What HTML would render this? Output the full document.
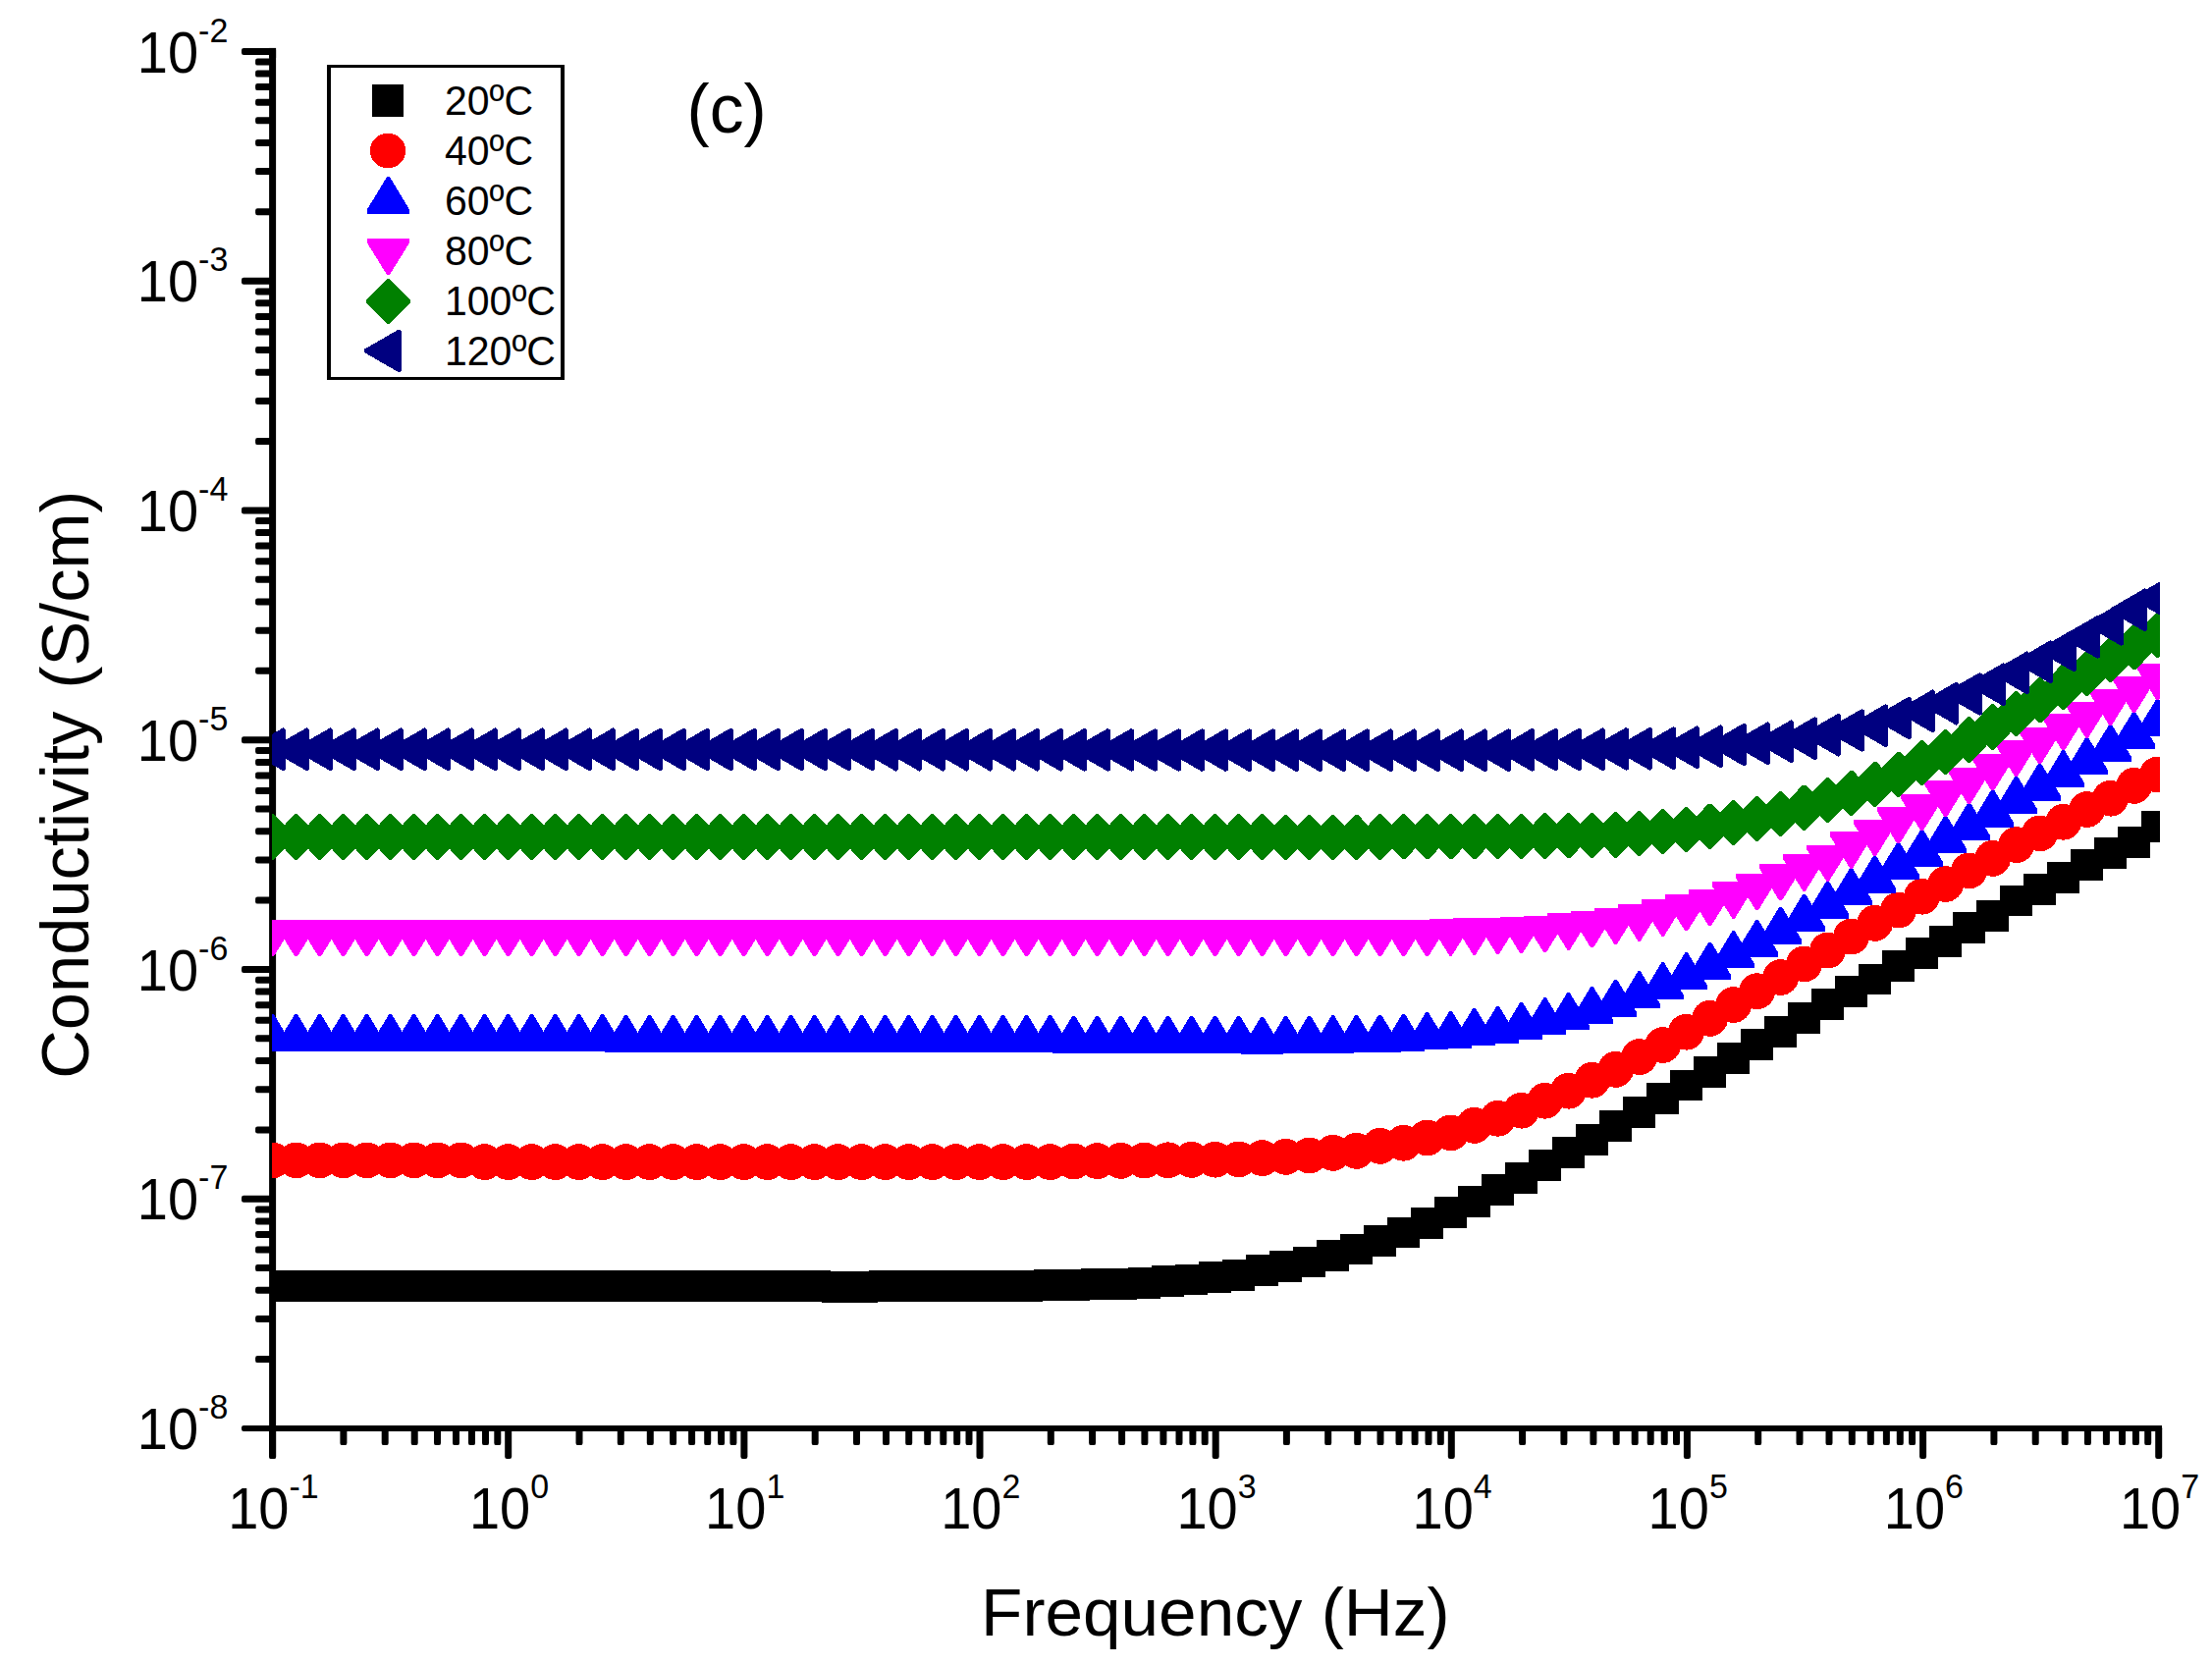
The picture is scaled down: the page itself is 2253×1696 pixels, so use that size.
<!DOCTYPE html>
<html lang="en"><head><meta charset="utf-8"><title>Conductivity vs Frequency (c)</title>
<style>html,body{margin:0;padding:0;background:#fff;}svg{display:block;}text{font-family:"Liberation Sans",Arial,Helvetica,sans-serif;fill:#000;}</style></head><body>
<svg width="2253" height="1696" viewBox="0 0 2253 1696">
<rect width="2253" height="1696" fill="#fff"/>
<defs><clipPath id="plotclip"><rect x="277.0" y="40" width="1923.0" height="1420"/></clipPath></defs>
<g fill="#000">
<rect x="274.1" y="48.9" width="7" height="1437.1" rx="2.2"/>
<rect x="274.1" y="48.9" width="7" height="10"/>
<rect x="246" y="1452.0" width="1956.0" height="6" rx="2.2"/>
<rect x="2190" y="1452.0" width="12" height="6"/>
<rect x="246" y="48.9" width="31.6" height="7" rx="2.2"/>
<rect x="260.1" y="212.3" width="17.5" height="7" rx="2.2"/>
<rect x="260.1" y="171.1" width="17.5" height="7" rx="2.2"/>
<rect x="260.1" y="141.9" width="17.5" height="7" rx="2.2"/>
<rect x="260.1" y="119.3" width="17.5" height="7" rx="2.2"/>
<rect x="260.1" y="100.8" width="17.5" height="7" rx="2.2"/>
<rect x="260.1" y="85.1" width="17.5" height="7" rx="2.2"/>
<rect x="260.1" y="71.6" width="17.5" height="7" rx="2.2"/>
<rect x="260.1" y="59.6" width="17.5" height="7" rx="2.2"/>
<rect x="246" y="282.7" width="31.6" height="7" rx="2.2"/>
<rect x="260.1" y="446.1" width="17.5" height="7" rx="2.2"/>
<rect x="260.1" y="404.9" width="17.5" height="7" rx="2.2"/>
<rect x="260.1" y="375.7" width="17.5" height="7" rx="2.2"/>
<rect x="260.1" y="353.0" width="17.5" height="7" rx="2.2"/>
<rect x="260.1" y="334.5" width="17.5" height="7" rx="2.2"/>
<rect x="260.1" y="318.9" width="17.5" height="7" rx="2.2"/>
<rect x="260.1" y="305.3" width="17.5" height="7" rx="2.2"/>
<rect x="260.1" y="293.4" width="17.5" height="7" rx="2.2"/>
<rect x="246" y="516.4" width="31.6" height="7" rx="2.2"/>
<rect x="260.1" y="679.8" width="17.5" height="7" rx="2.2"/>
<rect x="260.1" y="638.7" width="17.5" height="7" rx="2.2"/>
<rect x="260.1" y="609.5" width="17.5" height="7" rx="2.2"/>
<rect x="260.1" y="586.8" width="17.5" height="7" rx="2.2"/>
<rect x="260.1" y="568.3" width="17.5" height="7" rx="2.2"/>
<rect x="260.1" y="552.6" width="17.5" height="7" rx="2.2"/>
<rect x="260.1" y="539.1" width="17.5" height="7" rx="2.2"/>
<rect x="260.1" y="527.1" width="17.5" height="7" rx="2.2"/>
<rect x="246" y="750.2" width="31.6" height="7" rx="2.2"/>
<rect x="260.1" y="913.6" width="17.5" height="7" rx="2.2"/>
<rect x="260.1" y="872.4" width="17.5" height="7" rx="2.2"/>
<rect x="260.1" y="843.2" width="17.5" height="7" rx="2.2"/>
<rect x="260.1" y="820.6" width="17.5" height="7" rx="2.2"/>
<rect x="260.1" y="802.1" width="17.5" height="7" rx="2.2"/>
<rect x="260.1" y="786.4" width="17.5" height="7" rx="2.2"/>
<rect x="260.1" y="772.9" width="17.5" height="7" rx="2.2"/>
<rect x="260.1" y="760.9" width="17.5" height="7" rx="2.2"/>
<rect x="246" y="984.0" width="31.6" height="7" rx="2.2"/>
<rect x="260.1" y="1147.4" width="17.5" height="7" rx="2.2"/>
<rect x="260.1" y="1106.2" width="17.5" height="7" rx="2.2"/>
<rect x="260.1" y="1077.0" width="17.5" height="7" rx="2.2"/>
<rect x="260.1" y="1054.3" width="17.5" height="7" rx="2.2"/>
<rect x="260.1" y="1035.8" width="17.5" height="7" rx="2.2"/>
<rect x="260.1" y="1020.2" width="17.5" height="7" rx="2.2"/>
<rect x="260.1" y="1006.6" width="17.5" height="7" rx="2.2"/>
<rect x="260.1" y="994.7" width="17.5" height="7" rx="2.2"/>
<rect x="246" y="1217.7" width="31.6" height="7" rx="2.2"/>
<rect x="260.1" y="1381.1" width="17.5" height="7" rx="2.2"/>
<rect x="260.1" y="1340.0" width="17.5" height="7" rx="2.2"/>
<rect x="260.1" y="1310.8" width="17.5" height="7" rx="2.2"/>
<rect x="260.1" y="1288.1" width="17.5" height="7" rx="2.2"/>
<rect x="260.1" y="1269.6" width="17.5" height="7" rx="2.2"/>
<rect x="260.1" y="1253.9" width="17.5" height="7" rx="2.2"/>
<rect x="260.1" y="1240.4" width="17.5" height="7" rx="2.2"/>
<rect x="260.1" y="1228.4" width="17.5" height="7" rx="2.2"/>
<rect x="274.1" y="1453.0" width="7" height="33.0" rx="2.2"/>
<rect x="346.4" y="1453.0" width="7" height="19.1" rx="2.2"/>
<rect x="388.7" y="1453.0" width="7" height="19.1" rx="2.2"/>
<rect x="418.7" y="1453.0" width="7" height="19.1" rx="2.2"/>
<rect x="442.0" y="1453.0" width="7" height="19.1" rx="2.2"/>
<rect x="461.0" y="1453.0" width="7" height="19.1" rx="2.2"/>
<rect x="477.0" y="1453.0" width="7" height="19.1" rx="2.2"/>
<rect x="491.0" y="1453.0" width="7" height="19.1" rx="2.2"/>
<rect x="503.3" y="1453.0" width="7" height="19.1" rx="2.2"/>
<rect x="514.2" y="1453.0" width="7" height="33.0" rx="2.2"/>
<rect x="586.5" y="1453.0" width="7" height="19.1" rx="2.2"/>
<rect x="628.8" y="1453.0" width="7" height="19.1" rx="2.2"/>
<rect x="658.8" y="1453.0" width="7" height="19.1" rx="2.2"/>
<rect x="682.1" y="1453.0" width="7" height="19.1" rx="2.2"/>
<rect x="701.1" y="1453.0" width="7" height="19.1" rx="2.2"/>
<rect x="717.2" y="1453.0" width="7" height="19.1" rx="2.2"/>
<rect x="731.1" y="1453.0" width="7" height="19.1" rx="2.2"/>
<rect x="743.4" y="1453.0" width="7" height="19.1" rx="2.2"/>
<rect x="754.4" y="1453.0" width="7" height="33.0" rx="2.2"/>
<rect x="826.7" y="1453.0" width="7" height="19.1" rx="2.2"/>
<rect x="869.0" y="1453.0" width="7" height="19.1" rx="2.2"/>
<rect x="899.0" y="1453.0" width="7" height="19.1" rx="2.2"/>
<rect x="922.2" y="1453.0" width="7" height="19.1" rx="2.2"/>
<rect x="941.2" y="1453.0" width="7" height="19.1" rx="2.2"/>
<rect x="957.3" y="1453.0" width="7" height="19.1" rx="2.2"/>
<rect x="971.2" y="1453.0" width="7" height="19.1" rx="2.2"/>
<rect x="983.5" y="1453.0" width="7" height="19.1" rx="2.2"/>
<rect x="994.5" y="1453.0" width="7" height="33.0" rx="2.2"/>
<rect x="1066.8" y="1453.0" width="7" height="19.1" rx="2.2"/>
<rect x="1109.1" y="1453.0" width="7" height="19.1" rx="2.2"/>
<rect x="1139.1" y="1453.0" width="7" height="19.1" rx="2.2"/>
<rect x="1162.4" y="1453.0" width="7" height="19.1" rx="2.2"/>
<rect x="1181.4" y="1453.0" width="7" height="19.1" rx="2.2"/>
<rect x="1197.5" y="1453.0" width="7" height="19.1" rx="2.2"/>
<rect x="1211.4" y="1453.0" width="7" height="19.1" rx="2.2"/>
<rect x="1223.7" y="1453.0" width="7" height="19.1" rx="2.2"/>
<rect x="1234.7" y="1453.0" width="7" height="33.0" rx="2.2"/>
<rect x="1306.9" y="1453.0" width="7" height="19.1" rx="2.2"/>
<rect x="1349.2" y="1453.0" width="7" height="19.1" rx="2.2"/>
<rect x="1379.2" y="1453.0" width="7" height="19.1" rx="2.2"/>
<rect x="1402.5" y="1453.0" width="7" height="19.1" rx="2.2"/>
<rect x="1421.5" y="1453.0" width="7" height="19.1" rx="2.2"/>
<rect x="1437.6" y="1453.0" width="7" height="19.1" rx="2.2"/>
<rect x="1451.5" y="1453.0" width="7" height="19.1" rx="2.2"/>
<rect x="1463.8" y="1453.0" width="7" height="19.1" rx="2.2"/>
<rect x="1474.8" y="1453.0" width="7" height="33.0" rx="2.2"/>
<rect x="1547.1" y="1453.0" width="7" height="19.1" rx="2.2"/>
<rect x="1589.4" y="1453.0" width="7" height="19.1" rx="2.2"/>
<rect x="1619.4" y="1453.0" width="7" height="19.1" rx="2.2"/>
<rect x="1642.7" y="1453.0" width="7" height="19.1" rx="2.2"/>
<rect x="1661.7" y="1453.0" width="7" height="19.1" rx="2.2"/>
<rect x="1677.7" y="1453.0" width="7" height="19.1" rx="2.2"/>
<rect x="1691.7" y="1453.0" width="7" height="19.1" rx="2.2"/>
<rect x="1704.0" y="1453.0" width="7" height="19.1" rx="2.2"/>
<rect x="1714.9" y="1453.0" width="7" height="33.0" rx="2.2"/>
<rect x="1787.2" y="1453.0" width="7" height="19.1" rx="2.2"/>
<rect x="1829.5" y="1453.0" width="7" height="19.1" rx="2.2"/>
<rect x="1859.5" y="1453.0" width="7" height="19.1" rx="2.2"/>
<rect x="1882.8" y="1453.0" width="7" height="19.1" rx="2.2"/>
<rect x="1901.8" y="1453.0" width="7" height="19.1" rx="2.2"/>
<rect x="1917.9" y="1453.0" width="7" height="19.1" rx="2.2"/>
<rect x="1931.8" y="1453.0" width="7" height="19.1" rx="2.2"/>
<rect x="1944.1" y="1453.0" width="7" height="19.1" rx="2.2"/>
<rect x="1955.1" y="1453.0" width="7" height="33.0" rx="2.2"/>
<rect x="2027.4" y="1453.0" width="7" height="19.1" rx="2.2"/>
<rect x="2069.7" y="1453.0" width="7" height="19.1" rx="2.2"/>
<rect x="2099.7" y="1453.0" width="7" height="19.1" rx="2.2"/>
<rect x="2122.9" y="1453.0" width="7" height="19.1" rx="2.2"/>
<rect x="2141.9" y="1453.0" width="7" height="19.1" rx="2.2"/>
<rect x="2158.0" y="1453.0" width="7" height="19.1" rx="2.2"/>
<rect x="2171.9" y="1453.0" width="7" height="19.1" rx="2.2"/>
<rect x="2184.2" y="1453.0" width="7" height="19.1" rx="2.2"/>
<rect x="2195.2" y="1453.0" width="7" height="33.0" rx="2.2"/>
</g>
<g clip-path="url(#plotclip)" shape-rendering="crispEdges">
<g fill="#000000">
<polygon points="261.2,1294.0 294.0,1294.0 294.0,1325.8 261.2,1325.8"/><polygon points="285.2,1294.0 318.0,1294.0 318.0,1325.8 285.2,1325.8"/><polygon points="309.2,1294.0 342.0,1294.0 342.0,1325.8 309.2,1325.8"/><polygon points="333.2,1294.0 366.0,1294.0 366.0,1325.8 333.2,1325.8"/><polygon points="357.2,1294.0 390.0,1294.0 390.0,1325.8 357.2,1325.8"/><polygon points="381.2,1294.0 414.0,1294.0 414.0,1325.8 381.2,1325.8"/><polygon points="405.2,1294.0 438.0,1294.0 438.0,1325.8 405.2,1325.8"/><polygon points="429.2,1294.0 462.0,1294.0 462.0,1325.8 429.2,1325.8"/><polygon points="453.2,1294.0 486.0,1294.0 486.0,1325.8 453.2,1325.8"/><polygon points="477.2,1294.0 510.0,1294.0 510.0,1325.8 477.2,1325.8"/><polygon points="501.2,1294.0 534.0,1294.0 534.0,1325.8 501.2,1325.8"/><polygon points="525.2,1294.0 558.0,1294.0 558.0,1325.8 525.2,1325.8"/><polygon points="549.2,1294.0 582.0,1294.0 582.0,1325.8 549.2,1325.8"/><polygon points="573.2,1294.0 606.0,1294.0 606.0,1325.8 573.2,1325.8"/><polygon points="597.2,1294.0 630.0,1294.0 630.0,1325.8 597.2,1325.8"/><polygon points="621.2,1294.0 654.0,1294.0 654.0,1325.8 621.2,1325.8"/><polygon points="645.2,1294.0 678.0,1294.0 678.0,1325.8 645.2,1325.8"/><polygon points="669.2,1294.0 702.0,1294.0 702.0,1325.8 669.2,1325.8"/><polygon points="693.2,1294.0 726.0,1294.0 726.0,1325.8 693.2,1325.8"/><polygon points="717.2,1294.0 750.0,1294.0 750.0,1325.8 717.2,1325.8"/><polygon points="741.2,1294.0 774.0,1294.0 774.0,1325.8 741.2,1325.8"/><polygon points="765.2,1294.0 798.0,1294.0 798.0,1325.8 765.2,1325.8"/><polygon points="789.2,1294.0 822.0,1294.0 822.0,1325.8 789.2,1325.8"/><polygon points="813.2,1294.0 846.0,1294.0 846.0,1325.8 813.2,1325.8"/><polygon points="837.2,1294.7 870.0,1294.7 870.0,1326.5 837.2,1326.5"/><polygon points="861.2,1294.7 894.0,1294.7 894.0,1326.5 861.2,1326.5"/><polygon points="885.2,1294.0 918.0,1294.0 918.0,1325.8 885.2,1325.8"/><polygon points="909.2,1294.0 942.0,1294.0 942.0,1325.8 909.2,1325.8"/><polygon points="933.2,1294.0 966.0,1294.0 966.0,1325.8 933.2,1325.8"/><polygon points="957.2,1294.0 990.0,1294.0 990.0,1325.8 957.2,1325.8"/><polygon points="981.2,1294.0 1014.0,1294.0 1014.0,1325.8 981.2,1325.8"/><polygon points="1005.2,1294.0 1038.0,1294.0 1038.0,1325.8 1005.2,1325.8"/><polygon points="1029.2,1294.0 1062.0,1294.0 1062.0,1325.8 1029.2,1325.8"/><polygon points="1053.2,1292.9 1086.0,1292.9 1086.0,1324.7 1053.2,1324.7"/><polygon points="1077.2,1292.9 1110.0,1292.9 1110.0,1324.7 1077.2,1324.7"/><polygon points="1101.2,1292.0 1134.0,1292.0 1134.0,1323.8 1101.2,1323.8"/><polygon points="1125.2,1292.0 1158.0,1292.0 1158.0,1323.8 1125.2,1323.8"/><polygon points="1149.2,1291.1 1182.0,1291.1 1182.0,1322.9 1149.2,1322.9"/><polygon points="1173.2,1289.3 1206.0,1289.3 1206.0,1321.1 1173.2,1321.1"/><polygon points="1197.2,1287.5 1230.0,1287.5 1230.0,1319.3 1197.2,1319.3"/><polygon points="1221.2,1285.3 1254.0,1285.3 1254.0,1317.1 1221.2,1317.1"/><polygon points="1245.2,1283.1 1278.0,1283.1 1278.0,1314.9 1245.2,1314.9"/><polygon points="1269.2,1278.4 1302.0,1278.4 1302.0,1310.2 1269.2,1310.2"/><polygon points="1293.2,1274.2 1326.0,1274.2 1326.0,1306.0 1293.2,1306.0"/><polygon points="1317.2,1269.6 1350.0,1269.6 1350.0,1301.4 1317.2,1301.4"/><polygon points="1341.2,1263.3 1374.0,1263.3 1374.0,1295.1 1341.2,1295.1"/><polygon points="1365.2,1256.5 1398.0,1256.5 1398.0,1288.3 1365.2,1288.3"/><polygon points="1389.2,1248.4 1422.0,1248.4 1422.0,1280.2 1389.2,1280.2"/><polygon points="1413.2,1239.5 1446.0,1239.5 1446.0,1271.3 1413.2,1271.3"/><polygon points="1437.2,1230.4 1470.0,1230.4 1470.0,1262.2 1437.2,1262.2"/><polygon points="1461.2,1219.2 1494.0,1219.2 1494.0,1251.0 1461.2,1251.0"/><polygon points="1485.2,1208.4 1518.0,1208.4 1518.0,1240.2 1485.2,1240.2"/><polygon points="1509.2,1196.2 1542.0,1196.2 1542.0,1228.0 1509.2,1228.0"/><polygon points="1533.2,1184.3 1566.0,1184.3 1566.0,1216.1 1533.2,1216.1"/><polygon points="1557.2,1171.1 1590.0,1171.1 1590.0,1202.9 1557.2,1202.9"/><polygon points="1581.2,1158.0 1614.0,1158.0 1614.0,1189.8 1581.2,1189.8"/><polygon points="1605.2,1145.3 1638.0,1145.3 1638.0,1177.1 1605.2,1177.1"/><polygon points="1629.2,1131.4 1662.0,1131.4 1662.0,1163.2 1629.2,1163.2"/><polygon points="1653.2,1117.2 1686.0,1117.2 1686.0,1149.0 1653.2,1149.0"/><polygon points="1677.2,1103.4 1710.0,1103.4 1710.0,1135.2 1677.2,1135.2"/><polygon points="1701.2,1089.6 1734.0,1089.6 1734.0,1121.4 1701.2,1121.4"/><polygon points="1725.2,1076.2 1758.0,1076.2 1758.0,1108.0 1725.2,1108.0"/><polygon points="1749.2,1062.1 1782.0,1062.1 1782.0,1093.9 1749.2,1093.9"/><polygon points="1773.2,1048.2 1806.0,1048.2 1806.0,1080.0 1773.2,1080.0"/><polygon points="1797.2,1035.1 1830.0,1035.1 1830.0,1066.9 1797.2,1066.9"/><polygon points="1821.2,1021.2 1854.0,1021.2 1854.0,1053.0 1821.2,1053.0"/><polygon points="1845.2,1007.4 1878.0,1007.4 1878.0,1039.2 1845.2,1039.2"/><polygon points="1869.2,993.9 1902.0,993.9 1902.0,1025.7 1869.2,1025.7"/><polygon points="1893.2,981.6 1926.0,981.6 1926.0,1013.4 1893.2,1013.4"/><polygon points="1917.2,968.4 1950.0,968.4 1950.0,1000.2 1917.2,1000.2"/><polygon points="1941.2,955.4 1974.0,955.4 1974.0,987.2 1941.2,987.2"/><polygon points="1965.2,943.0 1998.0,943.0 1998.0,974.8 1965.2,974.8"/><polygon points="1989.2,929.2 2022.0,929.2 2022.0,961.0 1989.2,961.0"/><polygon points="2013.2,917.3 2046.0,917.3 2046.0,949.1 2013.2,949.1"/><polygon points="2037.2,901.5 2070.0,901.5 2070.0,933.3 2037.2,933.3"/><polygon points="2061.2,890.1 2094.0,890.1 2094.0,921.9 2061.2,921.9"/><polygon points="2085.2,878.1 2118.0,878.1 2118.0,909.9 2085.2,909.9"/><polygon points="2109.2,864.9 2142.0,864.9 2142.0,896.7 2109.2,896.7"/><polygon points="2133.2,853.1 2166.0,853.1 2166.0,884.9 2133.2,884.9"/><polygon points="2157.2,842.0 2190.0,842.0 2190.0,873.8 2157.2,873.8"/><polygon points="2181.2,826.0 2214.0,826.0 2214.0,857.8 2181.2,857.8"/>
</g>
<g fill="#ff0000">
<circle cx="277.6" cy="1181.9" r="18.4"/><circle cx="301.6" cy="1181.9" r="18.4"/><circle cx="325.6" cy="1181.9" r="18.4"/><circle cx="349.6" cy="1181.9" r="18.4"/><circle cx="373.6" cy="1181.9" r="18.4"/><circle cx="397.6" cy="1181.9" r="18.4"/><circle cx="421.6" cy="1181.9" r="18.4"/><circle cx="445.6" cy="1181.9" r="18.4"/><circle cx="469.6" cy="1181.9" r="18.4"/><circle cx="493.6" cy="1183.6" r="18.4"/><circle cx="517.6" cy="1183.6" r="18.4"/><circle cx="541.6" cy="1183.6" r="18.4"/><circle cx="565.6" cy="1183.6" r="18.4"/><circle cx="589.6" cy="1183.6" r="18.4"/><circle cx="613.6" cy="1183.6" r="18.4"/><circle cx="637.6" cy="1183.6" r="18.4"/><circle cx="661.6" cy="1183.6" r="18.4"/><circle cx="685.6" cy="1183.6" r="18.4"/><circle cx="709.6" cy="1183.6" r="18.4"/><circle cx="733.6" cy="1183.6" r="18.4"/><circle cx="757.6" cy="1183.6" r="18.4"/><circle cx="781.6" cy="1183.6" r="18.4"/><circle cx="805.6" cy="1183.6" r="18.4"/><circle cx="829.6" cy="1183.6" r="18.4"/><circle cx="853.6" cy="1183.6" r="18.4"/><circle cx="877.6" cy="1183.6" r="18.4"/><circle cx="901.6" cy="1183.6" r="18.4"/><circle cx="925.6" cy="1183.6" r="18.4"/><circle cx="949.6" cy="1183.6" r="18.4"/><circle cx="973.6" cy="1183.6" r="18.4"/><circle cx="997.6" cy="1183.6" r="18.4"/><circle cx="1021.6" cy="1183.6" r="18.4"/><circle cx="1045.6" cy="1183.6" r="18.4"/><circle cx="1069.6" cy="1183.6" r="18.4"/><circle cx="1093.6" cy="1183.0" r="18.4"/><circle cx="1117.6" cy="1182.6" r="18.4"/><circle cx="1141.6" cy="1182.4" r="18.4"/><circle cx="1165.6" cy="1182.1" r="18.4"/><circle cx="1189.6" cy="1181.8" r="18.4"/><circle cx="1213.6" cy="1181.4" r="18.4"/><circle cx="1237.6" cy="1181.2" r="18.4"/><circle cx="1261.6" cy="1180.9" r="18.4"/><circle cx="1285.6" cy="1179.6" r="18.4"/><circle cx="1309.6" cy="1178.4" r="18.4"/><circle cx="1333.6" cy="1177.0" r="18.4"/><circle cx="1357.6" cy="1174.4" r="18.4"/><circle cx="1381.6" cy="1172.4" r="18.4"/><circle cx="1405.6" cy="1167.4" r="18.4"/><circle cx="1429.6" cy="1164.3" r="18.4"/><circle cx="1453.6" cy="1159.0" r="18.4"/><circle cx="1477.6" cy="1153.9" r="18.4"/><circle cx="1501.6" cy="1146.4" r="18.4"/><circle cx="1525.6" cy="1139.3" r="18.4"/><circle cx="1549.6" cy="1131.2" r="18.4"/><circle cx="1573.6" cy="1121.3" r="18.4"/><circle cx="1597.6" cy="1111.2" r="18.4"/><circle cx="1621.6" cy="1100.3" r="18.4"/><circle cx="1645.6" cy="1089.4" r="18.4"/><circle cx="1669.6" cy="1076.6" r="18.4"/><circle cx="1693.6" cy="1064.5" r="18.4"/><circle cx="1717.6" cy="1051.2" r="18.4"/><circle cx="1741.6" cy="1037.4" r="18.4"/><circle cx="1765.6" cy="1023.5" r="18.4"/><circle cx="1789.6" cy="1009.7" r="18.4"/><circle cx="1813.6" cy="995.5" r="18.4"/><circle cx="1837.6" cy="981.9" r="18.4"/><circle cx="1861.6" cy="968.1" r="18.4"/><circle cx="1885.6" cy="954.0" r="18.4"/><circle cx="1909.6" cy="940.4" r="18.4"/><circle cx="1933.6" cy="927.1" r="18.4"/><circle cx="1957.6" cy="913.2" r="18.4"/><circle cx="1981.6" cy="900.5" r="18.4"/><circle cx="2005.6" cy="886.9" r="18.4"/><circle cx="2029.6" cy="874.4" r="18.4"/><circle cx="2053.6" cy="860.6" r="18.4"/><circle cx="2077.6" cy="848.9" r="18.4"/><circle cx="2101.6" cy="837.3" r="18.4"/><circle cx="2125.6" cy="824.5" r="18.4"/><circle cx="2149.6" cy="813.2" r="18.4"/><circle cx="2173.6" cy="800.4" r="18.4"/><circle cx="2197.6" cy="789.0" r="18.4"/>
</g>
<g fill="#0000ff">
<polygon points="276.3,1032.9 278.9,1032.9 299.2,1066.6 299.2,1071.0 256.0,1071.0 256.0,1066.6"/><polygon points="300.3,1032.9 302.9,1032.9 323.2,1066.6 323.2,1071.0 280.0,1071.0 280.0,1066.6"/><polygon points="324.3,1032.9 326.9,1032.9 347.2,1066.6 347.2,1071.0 304.0,1071.0 304.0,1066.6"/><polygon points="348.3,1032.9 350.9,1032.9 371.2,1066.6 371.2,1071.0 328.0,1071.0 328.0,1066.6"/><polygon points="372.3,1032.9 374.9,1032.9 395.2,1066.6 395.2,1071.0 352.0,1071.0 352.0,1066.6"/><polygon points="396.3,1032.9 398.9,1032.9 419.2,1066.6 419.2,1071.0 376.0,1071.0 376.0,1066.6"/><polygon points="420.3,1032.9 422.9,1032.9 443.2,1066.6 443.2,1071.0 400.0,1071.0 400.0,1066.6"/><polygon points="444.3,1032.9 446.9,1032.9 467.2,1066.6 467.2,1071.0 424.0,1071.0 424.0,1066.6"/><polygon points="468.3,1032.9 470.9,1032.9 491.2,1066.6 491.2,1071.0 448.0,1071.0 448.0,1066.6"/><polygon points="492.3,1032.9 494.9,1032.9 515.2,1066.6 515.2,1071.0 472.0,1071.0 472.0,1066.6"/><polygon points="516.3,1032.9 518.9,1032.9 539.2,1066.6 539.2,1071.0 496.0,1071.0 496.0,1066.6"/><polygon points="540.3,1032.9 542.9,1032.9 563.2,1066.6 563.2,1071.0 520.0,1071.0 520.0,1066.6"/><polygon points="564.3,1032.9 566.9,1032.9 587.2,1066.6 587.2,1071.0 544.0,1071.0 544.0,1066.6"/><polygon points="588.3,1032.9 590.9,1032.9 611.2,1066.6 611.2,1071.0 568.0,1071.0 568.0,1066.6"/><polygon points="612.3,1032.9 614.9,1032.9 635.2,1066.6 635.2,1071.0 592.0,1071.0 592.0,1066.6"/><polygon points="636.3,1033.9 638.9,1033.9 659.2,1067.6 659.2,1072.0 616.0,1072.0 616.0,1067.6"/><polygon points="660.3,1033.9 662.9,1033.9 683.2,1067.6 683.2,1072.0 640.0,1072.0 640.0,1067.6"/><polygon points="684.3,1033.9 686.9,1033.9 707.2,1067.6 707.2,1072.0 664.0,1072.0 664.0,1067.6"/><polygon points="708.3,1033.9 710.9,1033.9 731.2,1067.6 731.2,1072.0 688.0,1072.0 688.0,1067.6"/><polygon points="732.3,1033.9 734.9,1033.9 755.2,1067.6 755.2,1072.0 712.0,1072.0 712.0,1067.6"/><polygon points="756.3,1033.9 758.9,1033.9 779.2,1067.6 779.2,1072.0 736.0,1072.0 736.0,1067.6"/><polygon points="780.3,1033.9 782.9,1033.9 803.2,1067.6 803.2,1072.0 760.0,1072.0 760.0,1067.6"/><polygon points="804.3,1033.9 806.9,1033.9 827.2,1067.6 827.2,1072.0 784.0,1072.0 784.0,1067.6"/><polygon points="828.3,1033.9 830.9,1033.9 851.2,1067.6 851.2,1072.0 808.0,1072.0 808.0,1067.6"/><polygon points="852.3,1033.9 854.9,1033.9 875.2,1067.6 875.2,1072.0 832.0,1072.0 832.0,1067.6"/><polygon points="876.3,1033.9 878.9,1033.9 899.2,1067.6 899.2,1072.0 856.0,1072.0 856.0,1067.6"/><polygon points="900.3,1033.9 902.9,1033.9 923.2,1067.6 923.2,1072.0 880.0,1072.0 880.0,1067.6"/><polygon points="924.3,1033.9 926.9,1033.9 947.2,1067.6 947.2,1072.0 904.0,1072.0 904.0,1067.6"/><polygon points="948.3,1033.9 950.9,1033.9 971.2,1067.6 971.2,1072.0 928.0,1072.0 928.0,1067.6"/><polygon points="972.3,1033.9 974.9,1033.9 995.2,1067.6 995.2,1072.0 952.0,1072.0 952.0,1067.6"/><polygon points="996.3,1033.9 998.9,1033.9 1019.2,1067.6 1019.2,1072.0 976.0,1072.0 976.0,1067.6"/><polygon points="1020.3,1033.9 1022.9,1033.9 1043.2,1067.6 1043.2,1072.0 1000.0,1072.0 1000.0,1067.6"/><polygon points="1044.3,1033.9 1046.9,1033.9 1067.2,1067.6 1067.2,1072.0 1024.0,1072.0 1024.0,1067.6"/><polygon points="1068.3,1033.9 1070.9,1033.9 1091.2,1067.6 1091.2,1072.0 1048.0,1072.0 1048.0,1067.6"/><polygon points="1092.3,1034.8 1094.9,1034.8 1115.2,1068.5 1115.2,1072.9 1072.0,1072.9 1072.0,1068.5"/><polygon points="1116.3,1034.8 1118.9,1034.8 1139.2,1068.5 1139.2,1072.9 1096.0,1072.9 1096.0,1068.5"/><polygon points="1140.3,1034.8 1142.9,1034.8 1163.2,1068.5 1163.2,1072.9 1120.0,1072.9 1120.0,1068.5"/><polygon points="1164.3,1034.8 1166.9,1034.8 1187.2,1068.5 1187.2,1072.9 1144.0,1072.9 1144.0,1068.5"/><polygon points="1188.3,1034.8 1190.9,1034.8 1211.2,1068.5 1211.2,1072.9 1168.0,1072.9 1168.0,1068.5"/><polygon points="1212.3,1034.8 1214.9,1034.8 1235.2,1068.5 1235.2,1072.9 1192.0,1072.9 1192.0,1068.5"/><polygon points="1236.3,1034.8 1238.9,1034.8 1259.2,1068.5 1259.2,1072.9 1216.0,1072.9 1216.0,1068.5"/><polygon points="1260.3,1034.8 1262.9,1034.8 1283.2,1068.5 1283.2,1072.9 1240.0,1072.9 1240.0,1068.5"/><polygon points="1284.3,1035.7 1286.9,1035.7 1307.2,1069.4 1307.2,1073.8 1264.0,1073.8 1264.0,1069.4"/><polygon points="1308.3,1035.1 1310.9,1035.1 1331.2,1068.8 1331.2,1073.2 1288.0,1073.2 1288.0,1068.8"/><polygon points="1332.3,1034.8 1334.9,1034.8 1355.2,1068.5 1355.2,1072.9 1312.0,1072.9 1312.0,1068.5"/><polygon points="1356.3,1034.4 1358.9,1034.4 1379.2,1068.1 1379.2,1072.5 1336.0,1072.5 1336.0,1068.1"/><polygon points="1380.3,1034.0 1382.9,1034.0 1403.2,1067.7 1403.2,1072.1 1360.0,1072.1 1360.0,1067.7"/><polygon points="1404.3,1033.5 1406.9,1033.5 1427.2,1067.2 1427.2,1071.6 1384.0,1071.6 1384.0,1067.2"/><polygon points="1428.3,1032.8 1430.9,1032.8 1451.2,1066.5 1451.2,1070.9 1408.0,1070.9 1408.0,1066.5"/><polygon points="1452.3,1031.2 1454.9,1031.2 1475.2,1064.9 1475.2,1069.3 1432.0,1069.3 1432.0,1064.9"/><polygon points="1476.3,1030.0 1478.9,1030.0 1499.2,1063.7 1499.2,1068.1 1456.0,1068.1 1456.0,1063.7"/><polygon points="1500.3,1026.9 1502.9,1026.9 1523.2,1060.6 1523.2,1065.0 1480.0,1065.0 1480.0,1060.6"/><polygon points="1524.3,1024.9 1526.9,1024.9 1547.2,1058.6 1547.2,1063.0 1504.0,1063.0 1504.0,1058.6"/><polygon points="1548.3,1021.1 1550.9,1021.1 1571.2,1054.8 1571.2,1059.2 1528.0,1059.2 1528.0,1054.8"/><polygon points="1572.3,1016.3 1574.9,1016.3 1595.2,1050.0 1595.2,1054.4 1552.0,1054.4 1552.0,1050.0"/><polygon points="1596.3,1011.2 1598.9,1011.2 1619.2,1044.9 1619.2,1049.3 1576.0,1049.3 1576.0,1044.9"/><polygon points="1620.3,1005.2 1622.9,1005.2 1643.2,1038.9 1643.2,1043.3 1600.0,1043.3 1600.0,1038.9"/><polygon points="1644.3,997.8 1646.9,997.8 1667.2,1031.5 1667.2,1035.9 1624.0,1035.9 1624.0,1031.5"/><polygon points="1668.3,989.3 1670.9,989.3 1691.2,1023.0 1691.2,1027.4 1648.0,1027.4 1648.0,1023.0"/><polygon points="1692.3,980.3 1694.9,980.3 1715.2,1014.0 1715.2,1018.4 1672.0,1018.4 1672.0,1014.0"/><polygon points="1716.3,970.3 1718.9,970.3 1739.2,1004.0 1739.2,1008.4 1696.0,1008.4 1696.0,1004.0"/><polygon points="1740.3,959.8 1742.9,959.8 1763.2,993.5 1763.2,997.9 1720.0,997.9 1720.0,993.5"/><polygon points="1764.3,948.3 1766.9,948.3 1787.2,982.0 1787.2,986.4 1744.0,986.4 1744.0,982.0"/><polygon points="1788.3,936.9 1790.9,936.9 1811.2,970.6 1811.2,975.0 1768.0,975.0 1768.0,970.6"/><polygon points="1812.3,923.6 1814.9,923.6 1835.2,957.3 1835.2,961.7 1792.0,961.7 1792.0,957.3"/><polygon points="1836.3,910.8 1838.9,910.8 1859.2,944.5 1859.2,948.9 1816.0,948.9 1816.0,944.5"/><polygon points="1860.3,897.5 1862.9,897.5 1883.2,931.2 1883.2,935.6 1840.0,935.6 1840.0,931.2"/><polygon points="1884.3,884.2 1886.9,884.2 1907.2,917.9 1907.2,922.3 1864.0,922.3 1864.0,917.9"/><polygon points="1908.3,871.5 1910.9,871.5 1931.2,905.2 1931.2,909.6 1888.0,909.6 1888.0,905.2"/><polygon points="1932.3,857.9 1934.9,857.9 1955.2,891.6 1955.2,896.0 1912.0,896.0 1912.0,891.6"/><polygon points="1956.3,844.9 1958.9,844.9 1979.2,878.6 1979.2,883.0 1936.0,883.0 1936.0,878.6"/><polygon points="1980.3,831.0 1982.9,831.0 2003.2,864.7 2003.2,869.1 1960.0,869.1 1960.0,864.7"/><polygon points="2004.3,817.7 2006.9,817.7 2027.2,851.4 2027.2,855.8 1984.0,855.8 1984.0,851.4"/><polygon points="2028.3,804.4 2030.9,804.4 2051.2,838.1 2051.2,842.5 2008.0,842.5 2008.0,838.1"/><polygon points="2052.3,790.8 2054.9,790.8 2075.2,824.5 2075.2,828.9 2032.0,828.9 2032.0,824.5"/><polygon points="2076.3,777.5 2078.9,777.5 2099.2,811.2 2099.2,815.6 2056.0,815.6 2056.0,811.2"/><polygon points="2100.3,764.2 2102.9,764.2 2123.2,797.9 2123.2,802.3 2080.0,802.3 2080.0,797.9"/><polygon points="2124.3,751.2 2126.9,751.2 2147.2,784.9 2147.2,789.3 2104.0,789.3 2104.0,784.9"/><polygon points="2148.3,737.9 2150.9,737.9 2171.2,771.6 2171.2,776.0 2128.0,776.0 2128.0,771.6"/><polygon points="2172.3,724.9 2174.9,724.9 2195.2,758.6 2195.2,763.0 2152.0,763.0 2152.0,758.6"/><polygon points="2196.3,711.9 2198.9,711.9 2219.2,745.6 2219.2,750.0 2176.0,750.0 2176.0,745.6"/>
</g>
<g fill="#ff00ff">
<polygon points="256.0,937.1 299.2,937.1 299.2,941.5 278.9,974.3 276.3,974.3 256.0,941.5"/><polygon points="280.0,937.1 323.2,937.1 323.2,941.5 302.9,974.3 300.3,974.3 280.0,941.5"/><polygon points="304.0,937.1 347.2,937.1 347.2,941.5 326.9,974.3 324.3,974.3 304.0,941.5"/><polygon points="328.0,937.1 371.2,937.1 371.2,941.5 350.9,974.3 348.3,974.3 328.0,941.5"/><polygon points="352.0,937.1 395.2,937.1 395.2,941.5 374.9,974.3 372.3,974.3 352.0,941.5"/><polygon points="376.0,937.1 419.2,937.1 419.2,941.5 398.9,974.3 396.3,974.3 376.0,941.5"/><polygon points="400.0,937.1 443.2,937.1 443.2,941.5 422.9,974.3 420.3,974.3 400.0,941.5"/><polygon points="424.0,937.1 467.2,937.1 467.2,941.5 446.9,974.3 444.3,974.3 424.0,941.5"/><polygon points="448.0,937.1 491.2,937.1 491.2,941.5 470.9,974.3 468.3,974.3 448.0,941.5"/><polygon points="472.0,937.1 515.2,937.1 515.2,941.5 494.9,974.3 492.3,974.3 472.0,941.5"/><polygon points="496.0,937.1 539.2,937.1 539.2,941.5 518.9,974.3 516.3,974.3 496.0,941.5"/><polygon points="520.0,937.1 563.2,937.1 563.2,941.5 542.9,974.3 540.3,974.3 520.0,941.5"/><polygon points="544.0,937.1 587.2,937.1 587.2,941.5 566.9,974.3 564.3,974.3 544.0,941.5"/><polygon points="568.0,937.1 611.2,937.1 611.2,941.5 590.9,974.3 588.3,974.3 568.0,941.5"/><polygon points="592.0,937.1 635.2,937.1 635.2,941.5 614.9,974.3 612.3,974.3 592.0,941.5"/><polygon points="616.0,937.1 659.2,937.1 659.2,941.5 638.9,974.3 636.3,974.3 616.0,941.5"/><polygon points="640.0,937.1 683.2,937.1 683.2,941.5 662.9,974.3 660.3,974.3 640.0,941.5"/><polygon points="664.0,937.1 707.2,937.1 707.2,941.5 686.9,974.3 684.3,974.3 664.0,941.5"/><polygon points="688.0,937.1 731.2,937.1 731.2,941.5 710.9,974.3 708.3,974.3 688.0,941.5"/><polygon points="712.0,937.1 755.2,937.1 755.2,941.5 734.9,974.3 732.3,974.3 712.0,941.5"/><polygon points="736.0,937.1 779.2,937.1 779.2,941.5 758.9,974.3 756.3,974.3 736.0,941.5"/><polygon points="760.0,937.1 803.2,937.1 803.2,941.5 782.9,974.3 780.3,974.3 760.0,941.5"/><polygon points="784.0,937.1 827.2,937.1 827.2,941.5 806.9,974.3 804.3,974.3 784.0,941.5"/><polygon points="808.0,937.1 851.2,937.1 851.2,941.5 830.9,974.3 828.3,974.3 808.0,941.5"/><polygon points="832.0,937.1 875.2,937.1 875.2,941.5 854.9,974.3 852.3,974.3 832.0,941.5"/><polygon points="856.0,937.1 899.2,937.1 899.2,941.5 878.9,974.3 876.3,974.3 856.0,941.5"/><polygon points="880.0,937.1 923.2,937.1 923.2,941.5 902.9,974.3 900.3,974.3 880.0,941.5"/><polygon points="904.0,937.1 947.2,937.1 947.2,941.5 926.9,974.3 924.3,974.3 904.0,941.5"/><polygon points="928.0,937.1 971.2,937.1 971.2,941.5 950.9,974.3 948.3,974.3 928.0,941.5"/><polygon points="952.0,937.1 995.2,937.1 995.2,941.5 974.9,974.3 972.3,974.3 952.0,941.5"/><polygon points="976.0,937.1 1019.2,937.1 1019.2,941.5 998.9,974.3 996.3,974.3 976.0,941.5"/><polygon points="1000.0,937.1 1043.2,937.1 1043.2,941.5 1022.9,974.3 1020.3,974.3 1000.0,941.5"/><polygon points="1024.0,937.1 1067.2,937.1 1067.2,941.5 1046.9,974.3 1044.3,974.3 1024.0,941.5"/><polygon points="1048.0,937.1 1091.2,937.1 1091.2,941.5 1070.9,974.3 1068.3,974.3 1048.0,941.5"/><polygon points="1072.0,937.1 1115.2,937.1 1115.2,941.5 1094.9,974.3 1092.3,974.3 1072.0,941.5"/><polygon points="1096.0,937.1 1139.2,937.1 1139.2,941.5 1118.9,974.3 1116.3,974.3 1096.0,941.5"/><polygon points="1120.0,937.1 1163.2,937.1 1163.2,941.5 1142.9,974.3 1140.3,974.3 1120.0,941.5"/><polygon points="1144.0,937.1 1187.2,937.1 1187.2,941.5 1166.9,974.3 1164.3,974.3 1144.0,941.5"/><polygon points="1168.0,937.1 1211.2,937.1 1211.2,941.5 1190.9,974.3 1188.3,974.3 1168.0,941.5"/><polygon points="1192.0,937.1 1235.2,937.1 1235.2,941.5 1214.9,974.3 1212.3,974.3 1192.0,941.5"/><polygon points="1216.0,937.1 1259.2,937.1 1259.2,941.5 1238.9,974.3 1236.3,974.3 1216.0,941.5"/><polygon points="1240.0,937.1 1283.2,937.1 1283.2,941.5 1262.9,974.3 1260.3,974.3 1240.0,941.5"/><polygon points="1264.0,937.1 1307.2,937.1 1307.2,941.5 1286.9,974.3 1284.3,974.3 1264.0,941.5"/><polygon points="1288.0,937.1 1331.2,937.1 1331.2,941.5 1310.9,974.3 1308.3,974.3 1288.0,941.5"/><polygon points="1312.0,937.1 1355.2,937.1 1355.2,941.5 1334.9,974.3 1332.3,974.3 1312.0,941.5"/><polygon points="1336.0,937.1 1379.2,937.1 1379.2,941.5 1358.9,974.3 1356.3,974.3 1336.0,941.5"/><polygon points="1360.0,937.1 1403.2,937.1 1403.2,941.5 1382.9,974.3 1380.3,974.3 1360.0,941.5"/><polygon points="1384.0,937.1 1427.2,937.1 1427.2,941.5 1406.9,974.3 1404.3,974.3 1384.0,941.5"/><polygon points="1408.0,937.1 1451.2,937.1 1451.2,941.5 1430.9,974.3 1428.3,974.3 1408.0,941.5"/><polygon points="1432.0,937.1 1475.2,937.1 1475.2,941.5 1454.9,974.3 1452.3,974.3 1432.0,941.5"/><polygon points="1456.0,936.3 1499.2,936.3 1499.2,940.7 1478.9,973.5 1476.3,973.5 1456.0,940.7"/><polygon points="1480.0,935.4 1523.2,935.4 1523.2,939.8 1502.9,972.6 1500.3,972.6 1480.0,939.8"/><polygon points="1504.0,934.7 1547.2,934.7 1547.2,939.1 1526.9,971.9 1524.3,971.9 1504.0,939.1"/><polygon points="1528.0,933.9 1571.2,933.9 1571.2,938.3 1550.9,971.1 1548.3,971.1 1528.0,938.3"/><polygon points="1552.0,933.0 1595.2,933.0 1595.2,937.4 1574.9,970.2 1572.3,970.2 1552.0,937.4"/><polygon points="1576.0,930.4 1619.2,930.4 1619.2,934.8 1598.9,967.6 1596.3,967.6 1576.0,934.8"/><polygon points="1600.0,928.2 1643.2,928.2 1643.2,932.6 1622.9,965.4 1620.3,965.4 1600.0,932.6"/><polygon points="1624.0,924.7 1667.2,924.7 1667.2,929.1 1646.9,961.9 1644.3,961.9 1624.0,929.1"/><polygon points="1648.0,921.4 1691.2,921.4 1691.2,925.8 1670.9,958.6 1668.3,958.6 1648.0,925.8"/><polygon points="1672.0,916.4 1715.2,916.4 1715.2,920.8 1694.9,953.6 1692.3,953.6 1672.0,920.8"/><polygon points="1696.0,911.1 1739.2,911.1 1739.2,915.5 1718.9,948.3 1716.3,948.3 1696.0,915.5"/><polygon points="1720.0,905.9 1763.2,905.9 1763.2,910.3 1742.9,943.1 1740.3,943.1 1720.0,910.3"/><polygon points="1744.0,898.4 1787.2,898.4 1787.2,902.8 1766.9,935.6 1764.3,935.6 1744.0,902.8"/><polygon points="1768.0,890.0 1811.2,890.0 1811.2,894.4 1790.9,927.2 1788.3,927.2 1768.0,894.4"/><polygon points="1792.0,880.2 1835.2,880.2 1835.2,884.6 1814.9,917.4 1812.3,917.4 1792.0,884.6"/><polygon points="1816.0,870.4 1859.2,870.4 1859.2,874.8 1838.9,907.6 1836.3,907.6 1816.0,874.8"/><polygon points="1840.0,860.5 1883.2,860.5 1883.2,864.9 1862.9,897.7 1860.3,897.7 1840.0,864.9"/><polygon points="1864.0,847.4 1907.2,847.4 1907.2,851.8 1886.9,884.6 1884.3,884.6 1864.0,851.8"/><polygon points="1888.0,834.8 1931.2,834.8 1931.2,839.2 1910.9,872.0 1908.3,872.0 1888.0,839.2"/><polygon points="1912.0,822.2 1955.2,822.2 1955.2,826.6 1934.9,859.4 1932.3,859.4 1912.0,826.6"/><polygon points="1936.0,808.9 1979.2,808.9 1979.2,813.3 1958.9,846.1 1956.3,846.1 1936.0,813.3"/><polygon points="1960.0,795.0 2003.2,795.0 2003.2,799.4 1982.9,832.2 1980.3,832.2 1960.0,799.4"/><polygon points="1984.0,781.9 2027.2,781.9 2027.2,786.3 2006.9,819.1 2004.3,819.1 1984.0,786.3"/><polygon points="2008.0,768.2 2051.2,768.2 2051.2,772.6 2030.9,805.4 2028.3,805.4 2008.0,772.6"/><polygon points="2032.0,753.8 2075.2,753.8 2075.2,758.2 2054.9,791.0 2052.3,791.0 2032.0,758.2"/><polygon points="2056.0,741.1 2099.2,741.1 2099.2,745.5 2078.9,778.3 2076.3,778.3 2056.0,745.5"/><polygon points="2080.0,727.2 2123.2,727.2 2123.2,731.6 2102.9,764.4 2100.3,764.4 2080.0,731.6"/><polygon points="2104.0,714.5 2147.2,714.5 2147.2,718.9 2126.9,751.7 2124.3,751.7 2104.0,718.9"/><polygon points="2128.0,701.6 2171.2,701.6 2171.2,706.0 2150.9,738.8 2148.3,738.8 2128.0,706.0"/><polygon points="2152.0,688.9 2195.2,688.9 2195.2,693.3 2174.9,726.1 2172.3,726.1 2152.0,693.3"/><polygon points="2176.0,675.9 2219.2,675.9 2219.2,680.3 2198.9,713.1 2196.3,713.1 2176.0,680.3"/>
</g>
<g fill="#008000">
<polygon points="276.4,829.4 278.8,829.4 300.2,851.3 300.2,853.7 278.8,875.6 276.4,875.6 255.0,853.7 255.0,851.3"/><polygon points="300.4,829.4 302.8,829.4 324.2,851.3 324.2,853.7 302.8,875.6 300.4,875.6 279.0,853.7 279.0,851.3"/><polygon points="324.4,829.4 326.8,829.4 348.2,851.3 348.2,853.7 326.8,875.6 324.4,875.6 303.0,853.7 303.0,851.3"/><polygon points="348.4,829.4 350.8,829.4 372.2,851.3 372.2,853.7 350.8,875.6 348.4,875.6 327.0,853.7 327.0,851.3"/><polygon points="372.4,829.4 374.8,829.4 396.2,851.3 396.2,853.7 374.8,875.6 372.4,875.6 351.0,853.7 351.0,851.3"/><polygon points="396.4,829.4 398.8,829.4 420.2,851.3 420.2,853.7 398.8,875.6 396.4,875.6 375.0,853.7 375.0,851.3"/><polygon points="420.4,829.4 422.8,829.4 444.2,851.3 444.2,853.7 422.8,875.6 420.4,875.6 399.0,853.7 399.0,851.3"/><polygon points="444.4,829.4 446.8,829.4 468.2,851.3 468.2,853.7 446.8,875.6 444.4,875.6 423.0,853.7 423.0,851.3"/><polygon points="468.4,829.4 470.8,829.4 492.2,851.3 492.2,853.7 470.8,875.6 468.4,875.6 447.0,853.7 447.0,851.3"/><polygon points="492.4,829.4 494.8,829.4 516.2,851.3 516.2,853.7 494.8,875.6 492.4,875.6 471.0,853.7 471.0,851.3"/><polygon points="516.4,829.4 518.8,829.4 540.2,851.3 540.2,853.7 518.8,875.6 516.4,875.6 495.0,853.7 495.0,851.3"/><polygon points="540.4,829.4 542.8,829.4 564.2,851.3 564.2,853.7 542.8,875.6 540.4,875.6 519.0,853.7 519.0,851.3"/><polygon points="564.4,829.4 566.8,829.4 588.2,851.3 588.2,853.7 566.8,875.6 564.4,875.6 543.0,853.7 543.0,851.3"/><polygon points="588.4,829.4 590.8,829.4 612.2,851.3 612.2,853.7 590.8,875.6 588.4,875.6 567.0,853.7 567.0,851.3"/><polygon points="612.4,829.4 614.8,829.4 636.2,851.3 636.2,853.7 614.8,875.6 612.4,875.6 591.0,853.7 591.0,851.3"/><polygon points="636.4,829.4 638.8,829.4 660.2,851.3 660.2,853.7 638.8,875.6 636.4,875.6 615.0,853.7 615.0,851.3"/><polygon points="660.4,829.4 662.8,829.4 684.2,851.3 684.2,853.7 662.8,875.6 660.4,875.6 639.0,853.7 639.0,851.3"/><polygon points="684.4,829.4 686.8,829.4 708.2,851.3 708.2,853.7 686.8,875.6 684.4,875.6 663.0,853.7 663.0,851.3"/><polygon points="708.4,829.4 710.8,829.4 732.2,851.3 732.2,853.7 710.8,875.6 708.4,875.6 687.0,853.7 687.0,851.3"/><polygon points="732.4,829.4 734.8,829.4 756.2,851.3 756.2,853.7 734.8,875.6 732.4,875.6 711.0,853.7 711.0,851.3"/><polygon points="756.4,829.4 758.8,829.4 780.2,851.3 780.2,853.7 758.8,875.6 756.4,875.6 735.0,853.7 735.0,851.3"/><polygon points="780.4,829.4 782.8,829.4 804.2,851.3 804.2,853.7 782.8,875.6 780.4,875.6 759.0,853.7 759.0,851.3"/><polygon points="804.4,829.4 806.8,829.4 828.2,851.3 828.2,853.7 806.8,875.6 804.4,875.6 783.0,853.7 783.0,851.3"/><polygon points="828.4,829.4 830.8,829.4 852.2,851.3 852.2,853.7 830.8,875.6 828.4,875.6 807.0,853.7 807.0,851.3"/><polygon points="852.4,829.4 854.8,829.4 876.2,851.3 876.2,853.7 854.8,875.6 852.4,875.6 831.0,853.7 831.0,851.3"/><polygon points="876.4,829.4 878.8,829.4 900.2,851.3 900.2,853.7 878.8,875.6 876.4,875.6 855.0,853.7 855.0,851.3"/><polygon points="900.4,829.4 902.8,829.4 924.2,851.3 924.2,853.7 902.8,875.6 900.4,875.6 879.0,853.7 879.0,851.3"/><polygon points="924.4,829.4 926.8,829.4 948.2,851.3 948.2,853.7 926.8,875.6 924.4,875.6 903.0,853.7 903.0,851.3"/><polygon points="948.4,829.4 950.8,829.4 972.2,851.3 972.2,853.7 950.8,875.6 948.4,875.6 927.0,853.7 927.0,851.3"/><polygon points="972.4,829.4 974.8,829.4 996.2,851.3 996.2,853.7 974.8,875.6 972.4,875.6 951.0,853.7 951.0,851.3"/><polygon points="996.4,829.4 998.8,829.4 1020.2,851.3 1020.2,853.7 998.8,875.6 996.4,875.6 975.0,853.7 975.0,851.3"/><polygon points="1020.4,829.4 1022.8,829.4 1044.2,851.3 1044.2,853.7 1022.8,875.6 1020.4,875.6 999.0,853.7 999.0,851.3"/><polygon points="1044.4,829.4 1046.8,829.4 1068.2,851.3 1068.2,853.7 1046.8,875.6 1044.4,875.6 1023.0,853.7 1023.0,851.3"/><polygon points="1068.4,829.4 1070.8,829.4 1092.2,851.3 1092.2,853.7 1070.8,875.6 1068.4,875.6 1047.0,853.7 1047.0,851.3"/><polygon points="1092.4,829.4 1094.8,829.4 1116.2,851.3 1116.2,853.7 1094.8,875.6 1092.4,875.6 1071.0,853.7 1071.0,851.3"/><polygon points="1116.4,829.4 1118.8,829.4 1140.2,851.3 1140.2,853.7 1118.8,875.6 1116.4,875.6 1095.0,853.7 1095.0,851.3"/><polygon points="1140.4,829.4 1142.8,829.4 1164.2,851.3 1164.2,853.7 1142.8,875.6 1140.4,875.6 1119.0,853.7 1119.0,851.3"/><polygon points="1164.4,829.4 1166.8,829.4 1188.2,851.3 1188.2,853.7 1166.8,875.6 1164.4,875.6 1143.0,853.7 1143.0,851.3"/><polygon points="1188.4,829.4 1190.8,829.4 1212.2,851.3 1212.2,853.7 1190.8,875.6 1188.4,875.6 1167.0,853.7 1167.0,851.3"/><polygon points="1212.4,829.4 1214.8,829.4 1236.2,851.3 1236.2,853.7 1214.8,875.6 1212.4,875.6 1191.0,853.7 1191.0,851.3"/><polygon points="1236.4,829.4 1238.8,829.4 1260.2,851.3 1260.2,853.7 1238.8,875.6 1236.4,875.6 1215.0,853.7 1215.0,851.3"/><polygon points="1260.4,829.4 1262.8,829.4 1284.2,851.3 1284.2,853.7 1262.8,875.6 1260.4,875.6 1239.0,853.7 1239.0,851.3"/><polygon points="1284.4,829.4 1286.8,829.4 1308.2,851.3 1308.2,853.7 1286.8,875.6 1284.4,875.6 1263.0,853.7 1263.0,851.3"/><polygon points="1308.4,829.8 1310.8,829.8 1332.2,851.7 1332.2,854.1 1310.8,876.0 1308.4,876.0 1287.0,854.1 1287.0,851.7"/><polygon points="1332.4,829.8 1334.8,829.8 1356.2,851.7 1356.2,854.1 1334.8,876.0 1332.4,876.0 1311.0,854.1 1311.0,851.7"/><polygon points="1356.4,829.8 1358.8,829.8 1380.2,851.7 1380.2,854.1 1358.8,876.0 1356.4,876.0 1335.0,854.1 1335.0,851.7"/><polygon points="1380.4,829.7 1382.8,829.7 1404.2,851.6 1404.2,854.0 1382.8,875.9 1380.4,875.9 1359.0,854.0 1359.0,851.6"/><polygon points="1404.4,829.4 1406.8,829.4 1428.2,851.3 1428.2,853.7 1406.8,875.6 1404.4,875.6 1383.0,853.7 1383.0,851.3"/><polygon points="1428.4,829.2 1430.8,829.2 1452.2,851.1 1452.2,853.5 1430.8,875.4 1428.4,875.4 1407.0,853.5 1407.0,851.1"/><polygon points="1452.4,829.2 1454.8,829.2 1476.2,851.1 1476.2,853.5 1454.8,875.4 1452.4,875.4 1431.0,853.5 1431.0,851.1"/><polygon points="1476.4,829.2 1478.8,829.2 1500.2,851.1 1500.2,853.5 1478.8,875.4 1476.4,875.4 1455.0,853.5 1455.0,851.1"/><polygon points="1500.4,829.2 1502.8,829.2 1524.2,851.1 1524.2,853.5 1502.8,875.4 1500.4,875.4 1479.0,853.5 1479.0,851.1"/><polygon points="1524.4,829.0 1526.8,829.0 1548.2,850.9 1548.2,853.3 1526.8,875.2 1524.4,875.2 1503.0,853.3 1503.0,850.9"/><polygon points="1548.4,828.8 1550.8,828.8 1572.2,850.7 1572.2,853.1 1550.8,875.0 1548.4,875.0 1527.0,853.1 1527.0,850.7"/><polygon points="1572.4,828.4 1574.8,828.4 1596.2,850.3 1596.2,852.7 1574.8,874.6 1572.4,874.6 1551.0,852.7 1551.0,850.3"/><polygon points="1596.4,828.2 1598.8,828.2 1620.2,850.1 1620.2,852.5 1598.8,874.4 1596.4,874.4 1575.0,852.5 1575.0,850.1"/><polygon points="1620.4,828.0 1622.8,828.0 1644.2,849.9 1644.2,852.3 1622.8,874.2 1620.4,874.2 1599.0,852.3 1599.0,849.9"/><polygon points="1644.4,827.3 1646.8,827.3 1668.2,849.2 1668.2,851.6 1646.8,873.5 1644.4,873.5 1623.0,851.6 1623.0,849.2"/><polygon points="1668.4,825.9 1670.8,825.9 1692.2,847.8 1692.2,850.2 1670.8,872.1 1668.4,872.1 1647.0,850.2 1647.0,847.8"/><polygon points="1692.4,823.9 1694.8,823.9 1716.2,845.8 1716.2,848.2 1694.8,870.1 1692.4,870.1 1671.0,848.2 1671.0,845.8"/><polygon points="1716.4,821.8 1718.8,821.8 1740.2,843.7 1740.2,846.1 1718.8,868.0 1716.4,868.0 1695.0,846.1 1695.0,843.7"/><polygon points="1740.4,818.5 1742.8,818.5 1764.2,840.4 1764.2,842.8 1742.8,864.7 1740.4,864.7 1719.0,842.8 1719.0,840.4"/><polygon points="1764.4,815.0 1766.8,815.0 1788.2,836.9 1788.2,839.3 1766.8,861.2 1764.4,861.2 1743.0,839.3 1743.0,836.9"/><polygon points="1788.4,810.8 1790.8,810.8 1812.2,832.7 1812.2,835.1 1790.8,857.0 1788.4,857.0 1767.0,835.1 1767.0,832.7"/><polygon points="1812.4,806.0 1814.8,806.0 1836.2,827.9 1836.2,830.3 1814.8,852.2 1812.4,852.2 1791.0,830.3 1791.0,827.9"/><polygon points="1836.4,799.5 1838.8,799.5 1860.2,821.4 1860.2,823.8 1838.8,845.7 1836.4,845.7 1815.0,823.8 1815.0,821.4"/><polygon points="1860.4,791.9 1862.8,791.9 1884.2,813.8 1884.2,816.2 1862.8,838.1 1860.4,838.1 1839.0,816.2 1839.0,813.8"/><polygon points="1884.4,784.7 1886.8,784.7 1908.2,806.6 1908.2,809.0 1886.8,830.9 1884.4,830.9 1863.0,809.0 1863.0,806.6"/><polygon points="1908.4,775.7 1910.8,775.7 1932.2,797.6 1932.2,800.0 1910.8,821.9 1908.4,821.9 1887.0,800.0 1887.0,797.6"/><polygon points="1932.4,765.6 1934.8,765.6 1956.2,787.5 1956.2,789.9 1934.8,811.8 1932.4,811.8 1911.0,789.9 1911.0,787.5"/><polygon points="1956.4,754.0 1958.8,754.0 1980.2,775.9 1980.2,778.3 1958.8,800.2 1956.4,800.2 1935.0,778.3 1935.0,775.9"/><polygon points="1980.4,742.9 1982.8,742.9 2004.2,764.8 2004.2,767.2 1982.8,789.1 1980.4,789.1 1959.0,767.2 1959.0,764.8"/><polygon points="2004.4,730.4 2006.8,730.4 2028.2,752.3 2028.2,754.7 2006.8,776.6 2004.4,776.6 1983.0,754.7 1983.0,752.3"/><polygon points="2028.4,717.4 2030.8,717.4 2052.2,739.3 2052.2,741.7 2030.8,763.6 2028.4,763.6 2007.0,741.7 2007.0,739.3"/><polygon points="2052.4,704.0 2054.8,704.0 2076.2,725.9 2076.2,728.3 2054.8,750.2 2052.4,750.2 2031.0,728.3 2031.0,725.9"/><polygon points="2076.4,690.2 2078.8,690.2 2100.2,712.1 2100.2,714.5 2078.8,736.4 2076.4,736.4 2055.0,714.5 2055.0,712.1"/><polygon points="2100.4,676.5 2102.8,676.5 2124.2,698.4 2124.2,700.8 2102.8,722.7 2100.4,722.7 2079.0,700.8 2079.0,698.4"/><polygon points="2124.4,662.8 2126.8,662.8 2148.2,684.7 2148.2,687.1 2126.8,709.0 2124.4,709.0 2103.0,687.1 2103.0,684.7"/><polygon points="2148.4,648.9 2150.8,648.9 2172.2,670.8 2172.2,673.2 2150.8,695.1 2148.4,695.1 2127.0,673.2 2127.0,670.8"/><polygon points="2172.4,636.2 2174.8,636.2 2196.2,658.1 2196.2,660.5 2174.8,682.4 2172.4,682.4 2151.0,660.5 2151.0,658.1"/><polygon points="2196.4,623.7 2198.8,623.7 2220.2,645.6 2220.2,648.0 2198.8,669.9 2196.4,669.9 2175.0,648.0 2175.0,645.6"/>
</g>
<g fill="#000080">
<polygon points="253.1,761.7 288.4,741.3 291.0,742.8 291.0,783.8 288.4,785.3 253.1,764.9"/><polygon points="277.1,761.7 312.4,741.3 315.0,742.8 315.0,783.8 312.4,785.3 277.1,764.9"/><polygon points="301.1,761.7 336.4,741.3 339.0,742.8 339.0,783.8 336.4,785.3 301.1,764.9"/><polygon points="325.1,761.7 360.4,741.3 363.0,742.8 363.0,783.8 360.4,785.3 325.1,764.9"/><polygon points="349.1,761.7 384.4,741.3 387.0,742.8 387.0,783.8 384.4,785.3 349.1,764.9"/><polygon points="373.1,761.7 408.4,741.3 411.0,742.8 411.0,783.8 408.4,785.3 373.1,764.9"/><polygon points="397.1,761.8 432.4,741.4 435.0,742.9 435.0,783.9 432.4,785.4 397.1,765.0"/><polygon points="421.1,761.8 456.4,741.4 459.0,742.9 459.0,783.9 456.4,785.4 421.1,765.0"/><polygon points="445.1,761.8 480.4,741.4 483.0,742.9 483.0,783.9 480.4,785.4 445.1,765.0"/><polygon points="469.1,761.8 504.4,741.4 507.0,742.9 507.0,783.9 504.4,785.4 469.1,765.0"/><polygon points="493.1,761.8 528.4,741.4 531.0,742.9 531.0,783.9 528.4,785.4 493.1,765.0"/><polygon points="517.1,761.8 552.4,741.4 555.0,742.9 555.0,783.9 552.4,785.4 517.1,765.0"/><polygon points="541.1,761.8 576.4,741.4 579.0,742.9 579.0,783.9 576.4,785.4 541.1,765.0"/><polygon points="565.1,761.8 600.4,741.4 603.0,742.9 603.0,783.9 600.4,785.4 565.1,765.0"/><polygon points="589.1,761.8 624.4,741.4 627.0,742.9 627.0,783.9 624.4,785.4 589.1,765.0"/><polygon points="613.1,761.9 648.4,741.5 651.0,743.0 651.0,784.0 648.4,785.5 613.1,765.1"/><polygon points="637.1,761.9 672.4,741.5 675.0,743.0 675.0,784.0 672.4,785.5 637.1,765.1"/><polygon points="661.1,761.9 696.4,741.5 699.0,743.0 699.0,784.0 696.4,785.5 661.1,765.1"/><polygon points="685.1,761.9 720.4,741.5 723.0,743.0 723.0,784.0 720.4,785.5 685.1,765.1"/><polygon points="709.1,761.9 744.4,741.5 747.0,743.0 747.0,784.0 744.4,785.5 709.1,765.1"/><polygon points="733.1,761.9 768.4,741.5 771.0,743.0 771.0,784.0 768.4,785.5 733.1,765.1"/><polygon points="757.1,761.9 792.4,741.5 795.0,743.0 795.0,784.0 792.4,785.5 757.1,765.1"/><polygon points="781.1,761.9 816.4,741.5 819.0,743.0 819.0,784.0 816.4,785.5 781.1,765.1"/><polygon points="805.1,761.9 840.4,741.5 843.0,743.0 843.0,784.0 840.4,785.5 805.1,765.1"/><polygon points="829.1,761.9 864.4,741.5 867.0,743.0 867.0,784.0 864.4,785.5 829.1,765.1"/><polygon points="853.1,761.9 888.4,741.5 891.0,743.0 891.0,784.0 888.4,785.5 853.1,765.1"/><polygon points="877.1,762.0 912.4,741.6 915.0,743.1 915.0,784.1 912.4,785.6 877.1,765.2"/><polygon points="901.1,762.0 936.4,741.6 939.0,743.1 939.0,784.1 936.4,785.6 901.1,765.2"/><polygon points="925.1,762.0 960.4,741.6 963.0,743.1 963.0,784.1 960.4,785.6 925.1,765.2"/><polygon points="949.1,762.0 984.4,741.6 987.0,743.1 987.0,784.1 984.4,785.6 949.1,765.2"/><polygon points="973.1,762.0 1008.4,741.6 1011.0,743.1 1011.0,784.1 1008.4,785.6 973.1,765.2"/><polygon points="997.1,762.0 1032.4,741.6 1035.0,743.1 1035.0,784.1 1032.4,785.6 997.1,765.2"/><polygon points="1021.1,762.1 1056.4,741.7 1059.0,743.2 1059.0,784.2 1056.4,785.7 1021.1,765.3"/><polygon points="1045.1,762.1 1080.4,741.8 1083.0,743.2 1083.0,784.2 1080.4,785.8 1045.1,765.4"/><polygon points="1069.1,762.2 1104.4,741.8 1107.0,743.3 1107.0,784.3 1104.4,785.8 1069.1,765.4"/><polygon points="1093.1,762.2 1128.4,741.9 1131.0,743.4 1131.0,784.4 1128.4,785.9 1093.1,765.5"/><polygon points="1117.1,762.3 1152.4,741.9 1155.0,743.4 1155.0,784.4 1152.4,785.9 1117.1,765.5"/><polygon points="1141.1,762.4 1176.4,742.0 1179.0,743.5 1179.0,784.5 1176.4,786.0 1141.1,765.6"/><polygon points="1165.1,762.4 1200.4,742.0 1203.0,743.5 1203.0,784.5 1200.4,786.0 1165.1,765.6"/><polygon points="1189.1,762.5 1224.4,742.1 1227.0,743.6 1227.0,784.6 1224.4,786.1 1189.1,765.7"/><polygon points="1213.1,762.5 1248.4,742.1 1251.0,743.6 1251.0,784.6 1248.4,786.1 1213.1,765.7"/><polygon points="1237.1,762.6 1272.4,742.2 1275.0,743.7 1275.0,784.7 1272.4,786.2 1237.1,765.8"/><polygon points="1261.1,762.6 1296.4,742.2 1299.0,743.7 1299.0,784.7 1296.4,786.2 1261.1,765.8"/><polygon points="1285.1,762.6 1320.4,742.2 1323.0,743.7 1323.0,784.7 1320.4,786.2 1285.1,765.8"/><polygon points="1309.1,762.6 1344.4,742.2 1347.0,743.7 1347.0,784.7 1344.4,786.2 1309.1,765.8"/><polygon points="1333.1,762.6 1368.4,742.2 1371.0,743.7 1371.0,784.7 1368.4,786.2 1333.1,765.8"/><polygon points="1357.1,762.6 1392.4,742.2 1395.0,743.7 1395.0,784.7 1392.4,786.2 1357.1,765.8"/><polygon points="1381.1,762.7 1416.4,742.3 1419.0,743.8 1419.0,784.8 1416.4,786.3 1381.1,765.9"/><polygon points="1405.1,762.7 1440.4,742.3 1443.0,743.8 1443.0,784.8 1440.4,786.3 1405.1,765.9"/><polygon points="1429.1,762.7 1464.4,742.3 1467.0,743.8 1467.0,784.8 1464.4,786.3 1429.1,765.9"/><polygon points="1453.1,762.7 1488.4,742.3 1491.0,743.8 1491.0,784.8 1488.4,786.3 1453.1,765.9"/><polygon points="1477.1,762.7 1512.4,742.3 1515.0,743.8 1515.0,784.8 1512.4,786.3 1477.1,765.9"/><polygon points="1501.1,762.6 1536.4,742.2 1539.0,743.7 1539.0,784.7 1536.4,786.2 1501.1,765.8"/><polygon points="1525.1,762.2 1560.4,741.8 1563.0,743.3 1563.0,784.3 1560.4,785.8 1525.1,765.4"/><polygon points="1549.1,761.9 1584.4,741.5 1587.0,743.0 1587.0,784.0 1584.4,785.5 1549.1,765.1"/><polygon points="1573.1,761.9 1608.4,741.5 1611.0,743.0 1611.0,784.0 1608.4,785.5 1573.1,765.1"/><polygon points="1597.1,761.7 1632.4,741.3 1635.0,742.8 1635.0,783.8 1632.4,785.3 1597.1,764.9"/><polygon points="1621.1,761.3 1656.4,740.9 1659.0,742.4 1659.0,783.4 1656.4,784.9 1621.1,764.5"/><polygon points="1645.1,761.1 1680.4,740.7 1683.0,742.2 1683.0,783.2 1680.4,784.7 1645.1,764.3"/><polygon points="1669.1,760.6 1704.4,740.2 1707.0,741.7 1707.0,782.7 1704.4,784.2 1669.1,763.8"/><polygon points="1693.1,759.7 1728.4,739.3 1731.0,740.8 1731.0,781.8 1728.4,783.3 1693.1,762.9"/><polygon points="1717.1,758.7 1752.4,738.3 1755.0,739.8 1755.0,780.8 1752.4,782.3 1717.1,761.9"/><polygon points="1741.1,756.9 1776.4,736.5 1779.0,738.0 1779.0,779.0 1776.4,780.5 1741.1,760.1"/><polygon points="1765.1,755.7 1800.4,735.3 1803.0,736.8 1803.0,777.8 1800.4,779.3 1765.1,758.9"/><polygon points="1789.1,753.7 1824.4,733.3 1827.0,734.8 1827.0,775.8 1824.4,777.3 1789.1,756.9"/><polygon points="1813.1,750.6 1848.4,730.2 1851.0,731.7 1851.0,772.7 1848.4,774.2 1813.1,753.8"/><polygon points="1837.1,747.1 1872.4,726.7 1875.0,728.2 1875.0,769.2 1872.4,770.7 1837.1,750.3"/><polygon points="1861.1,742.4 1896.4,722.0 1899.0,723.5 1899.0,764.5 1896.4,766.0 1861.1,745.6"/><polygon points="1885.1,737.6 1920.4,717.2 1923.0,718.7 1923.0,759.7 1920.4,761.2 1885.1,740.8"/><polygon points="1909.1,729.9 1944.4,709.5 1947.0,711.0 1947.0,752.0 1944.4,753.5 1909.1,733.1"/><polygon points="1933.1,722.8 1968.4,702.4 1971.0,703.9 1971.0,744.9 1968.4,746.4 1933.1,726.0"/><polygon points="1957.1,715.0 1992.4,694.6 1995.0,696.1 1995.0,737.1 1992.4,738.6 1957.1,718.2"/><polygon points="1981.1,705.4 2016.4,685.0 2019.0,686.5 2019.0,727.5 2016.4,729.0 1981.1,708.6"/><polygon points="2005.1,695.7 2040.4,675.3 2043.0,676.8 2043.0,717.8 2040.4,719.3 2005.1,698.9"/><polygon points="2029.1,683.8 2064.4,663.4 2067.0,664.9 2067.0,705.9 2064.4,707.4 2029.1,687.0"/><polygon points="2053.1,672.6 2088.4,652.2 2091.0,653.7 2091.0,694.7 2088.4,696.2 2053.1,675.8"/><polygon points="2077.1,660.9 2112.4,640.5 2115.0,642.0 2115.0,683.0 2112.4,684.5 2077.1,664.1"/><polygon points="2101.1,647.2 2136.4,626.8 2139.0,628.3 2139.0,669.3 2136.4,670.8 2101.1,650.4"/><polygon points="2125.1,634.2 2160.4,613.8 2163.0,615.3 2163.0,656.3 2160.4,657.8 2125.1,637.4"/><polygon points="2149.1,619.8 2184.4,599.4 2187.0,600.9 2187.0,641.9 2184.4,643.4 2149.1,623.0"/><polygon points="2173.1,607.9 2208.4,587.5 2211.0,589.0 2211.0,630.0 2208.4,631.5 2173.1,611.1"/>
</g>
</g>
<g font-size="56">
<text transform="translate(232.3 73.6) scale(1 1.045)" text-anchor="end">10<tspan font-size="34" dy="-29.7">-2</tspan></text>
<text transform="translate(232.3 307.4) scale(1 1.045)" text-anchor="end">10<tspan font-size="34" dy="-29.7">-3</tspan></text>
<text transform="translate(232.3 541.1) scale(1 1.045)" text-anchor="end">10<tspan font-size="34" dy="-29.7">-4</tspan></text>
<text transform="translate(232.3 774.9) scale(1 1.045)" text-anchor="end">10<tspan font-size="34" dy="-29.7">-5</tspan></text>
<text transform="translate(232.3 1008.7) scale(1 1.045)" text-anchor="end">10<tspan font-size="34" dy="-29.7">-6</tspan></text>
<text transform="translate(232.3 1242.4) scale(1 1.045)" text-anchor="end">10<tspan font-size="34" dy="-29.7">-7</tspan></text>
<text transform="translate(232.3 1476.2) scale(1 1.045)" text-anchor="end">10<tspan font-size="34" dy="-29.7">-8</tspan></text>
<text transform="translate(278.4 1556.6) scale(1 1.045)" text-anchor="middle">10<tspan font-size="34" dy="-29.7">-1</tspan></text>
<text transform="translate(518.5 1556.6) scale(1 1.045)" text-anchor="middle">10<tspan font-size="34" dy="-29.7">0</tspan></text>
<text transform="translate(758.7 1556.6) scale(1 1.045)" text-anchor="middle">10<tspan font-size="34" dy="-29.7">1</tspan></text>
<text transform="translate(998.8 1556.6) scale(1 1.045)" text-anchor="middle">10<tspan font-size="34" dy="-29.7">2</tspan></text>
<text transform="translate(1239.0 1556.6) scale(1 1.045)" text-anchor="middle">10<tspan font-size="34" dy="-29.7">3</tspan></text>
<text transform="translate(1479.1 1556.6) scale(1 1.045)" text-anchor="middle">10<tspan font-size="34" dy="-29.7">4</tspan></text>
<text transform="translate(1719.2 1556.6) scale(1 1.045)" text-anchor="middle">10<tspan font-size="34" dy="-29.7">5</tspan></text>
<text transform="translate(1959.4 1556.6) scale(1 1.045)" text-anchor="middle">10<tspan font-size="34" dy="-29.7">6</tspan></text>
<text transform="translate(2199.5 1556.6) scale(1 1.045)" text-anchor="middle">10<tspan font-size="34" dy="-29.7">7</tspan></text>
</g>
<text x="999.1" y="1665.8" font-size="69.3">Frequency (Hz)</text>
<text transform="translate(89.5 1098.8) rotate(-90)" font-size="68.7">Conductivity</text>
<text transform="translate(89.5 701.4) rotate(-90)" font-size="68.5">(S/cm)</text>
<text x="699.6" y="135.2" font-size="69.6">(c)</text>
<rect x="335" y="67.7" width="238.1" height="317.7" fill="#fff" stroke="#000" stroke-width="3.5" shape-rendering="crispEdges"/>
<g shape-rendering="crispEdges">
<rect x="378.9" y="86.1" width="32" height="32.8" fill="#000000"/>
<ellipse cx="395" cy="153.5" rx="18.2" ry="17.7" fill="#ff0000"/>
<polygon points="394.2,179.8 396.8,179.8 417.1,213.5 417.1,217.9 373.9,217.9 373.9,213.5" fill="#0000ff"/>
<polygon points="373.9,242.9 417.1,242.9 417.1,247.3 396.8,280.1 394.2,280.1 373.9,247.3" fill="#ff00ff"/>
<polygon points="394.3,283.8 396.7,283.8 418.1,305.7 418.1,308.1 396.7,330.0 394.3,330.0 372.9,308.1 372.9,305.7" fill="#008000"/>
<polygon points="371.0,355.8 406.3,335.4 408.9,336.9 408.9,377.9 406.3,379.4 371.0,359.0" fill="#000080"/>
</g>
<g font-size="41">
<text transform="translate(453 117.0) scale(1 1.04)">20ºC</text>
<text transform="translate(453 167.8) scale(1 1.04)">40ºC</text>
<text transform="translate(453 218.6) scale(1 1.04)">60ºC</text>
<text transform="translate(453 269.5) scale(1 1.04)">80ºC</text>
<text transform="translate(453 320.8) scale(1 1.04)">100ºC</text>
<text transform="translate(453 372.1) scale(1 1.04)">120ºC</text>
</g>
</svg></body></html>
